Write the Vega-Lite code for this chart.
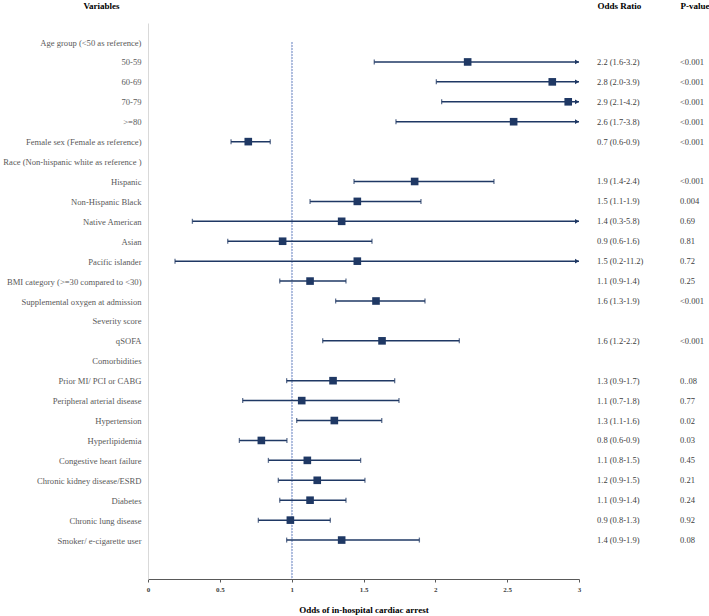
{
  "$schema": "https://vega.github.io/schema/vega-lite/v6.json",
  "width": 431,
  "height": 556,
  "autosize": {"type": "none"},
  "padding": {"left": 148, "top": 23, "right": 130, "bottom": 37},
  "background": "white",
  "config": {
    "view": {"stroke": null},
    "font": "Liberation Serif"
  },
  "data": {
    "values": [
      {"label": "Age group (<50 as reference)", "or": null, "lo": null, "hi": null, "or_text": null, "p_text": null},
      {"label": "50-59", "or": 2.225, "lo": 1.575, "hi": 3.2, "or_text": "2.2 (1.6-3.2)", "p_text": "<0.001"},
      {"label": "60-69", "or": 2.814, "lo": 2.007, "hi": 3.9, "or_text": "2.8 (2.0-3.9)", "p_text": "<0.001"},
      {"label": "70-79", "or": 2.925, "lo": 2.044, "hi": 4.2, "or_text": "2.9 (2.1-4.2)", "p_text": "<0.001"},
      {"label": ">=80", "or": 2.545, "lo": 1.726, "hi": 3.8, "or_text": "2.6 (1.7-3.8)", "p_text": "<0.001"},
      {"label": "Female sex  (Female as reference)", "or": 0.698, "lo": 0.578, "hi": 0.851, "or_text": "0.7 (0.6-0.9)", "p_text": "<0.001"},
      {"label": "Race (Non-hispanic white as reference )", "or": null, "lo": null, "hi": null, "or_text": null, "p_text": null},
      {"label": "Hispanic", "or": 1.856, "lo": 1.434, "hi": 2.408, "or_text": "1.9 (1.4-2.4)", "p_text": "<0.001"},
      {"label": "Non-Hispanic Black", "or": 1.457, "lo": 1.128, "hi": 1.9, "or_text": "1.5 (1.1-1.9)", "p_text": "0.004"},
      {"label": "Native American", "or": 1.348, "lo": 0.309, "hi": 5.8, "or_text": "1.4 (0.3-5.8)", "p_text": "0.69"},
      {"label": "Asian", "or": 0.937, "lo": 0.555, "hi": 1.559, "or_text": "0.9 (0.6-1.6)", "p_text": "0.81"},
      {"label": "Pacific islander", "or": 1.457, "lo": 0.188, "hi": 11.2, "or_text": "1.5 (0.2-11.2)", "p_text": "0.72"},
      {"label": "BMI category (>=30 compared to <30)", "or": 1.128, "lo": 0.917, "hi": 1.378, "or_text": "1.1 (0.9-1.4)", "p_text": "0.25"},
      {"label": "Supplemental oxygen at admission", "or": 1.587, "lo": 1.306, "hi": 1.928, "or_text": "1.6 (1.3-1.9)", "p_text": "<0.001"},
      {"label": "Severity score", "or": null, "lo": null, "hi": null, "or_text": null, "p_text": null},
      {"label": "qSOFA", "or": 1.629, "lo": 1.216, "hi": 2.167, "or_text": "1.6 (1.2-2.2)", "p_text": "<0.001"},
      {"label": "Comorbidities", "or": null, "lo": null, "hi": null, "or_text": null, "p_text": null},
      {"label": "Prior MI/ PCI or CABG", "or": 1.288, "lo": 0.965, "hi": 1.717, "or_text": "1.3 (0.9-1.7)", "p_text": "0..08"},
      {"label": "Peripheral arterial disease", "or": 1.07, "lo": 0.659, "hi": 1.747, "or_text": "1.1 (0.7-1.8)", "p_text": "0.77"},
      {"label": "Hypertension", "or": 1.297, "lo": 1.035, "hi": 1.627, "or_text": "1.3 (1.1-1.6)", "p_text": "0.02"},
      {"label": "Hyperlipidemia", "or": 0.789, "lo": 0.636, "hi": 0.967, "or_text": "0.8 (0.6-0.9)", "p_text": "0.03"},
      {"label": "Congestive heart failure", "or": 1.109, "lo": 0.838, "hi": 1.48, "or_text": "1.1 (0.8-1.5)", "p_text": "0.45"},
      {"label": "Chronic kidney disease/ESRD", "or": 1.178, "lo": 0.907, "hi": 1.51, "or_text": "1.2 (0.9-1.5)", "p_text": "0.21"},
      {"label": "Diabetes", "or": 1.128, "lo": 0.917, "hi": 1.378, "or_text": "1.1 (0.9-1.4)", "p_text": "0.24"},
      {"label": "Chronic lung disease", "or": 0.991, "lo": 0.768, "hi": 1.269, "or_text": "0.9 (0.8-1.3)", "p_text": "0.92"},
      {"label": "Smoker/ e-cigarette user", "or": 1.348, "lo": 0.965, "hi": 1.889, "or_text": "1.4 (0.9-1.9)", "p_text": "0.08"}
    ]
  },
  "encoding": {
    "y": {
      "field": "label",
      "type": "nominal",
      "scale": {
        "type": "point",
        "padding": 0.955,
        "domain": [
          "Age group (<50 as reference)", "50-59", "60-69", "70-79", ">=80",
          "Female sex  (Female as reference)", "Race (Non-hispanic white as reference )",
          "Hispanic", "Non-Hispanic Black", "Native American", "Asian", "Pacific islander",
          "BMI category (>=30 compared to <30)", "Supplemental oxygen at admission",
          "Severity score", "qSOFA", "Comorbidities", "Prior MI/ PCI or CABG",
          "Peripheral arterial disease", "Hypertension", "Hyperlipidemia",
          "Congestive heart failure", "Chronic kidney disease/ESRD", "Diabetes",
          "Chronic lung disease", "Smoker/ e-cigarette user", " "
        ]
      },
      "axis": {
        "title": "Variables",
        "titleAngle": 0,
        "titleX": -47,
        "titleY": -18,
        "titleAlign": "center",
        "titleBaseline": "middle",
        "titleFont": "Liberation Serif",
        "titleFontSize": 9,
        "titleFontWeight": "bold",
        "titleColor": "#000000",
        "labelFont": "Liberation Serif",
        "labelFontSize": 8.6,
        "labelColor": "#595959",
        "labelAlign": "right",
        "labelPadding": 7,
        "labelLimit": 0,
        "ticks": false,
        "grid": false,
        "domainColor": "#d9d9d9",
        "domainWidth": 1
      }
    }
  },
  "layer": [
    {
      "encoding": {
        "x": {
          "type": "quantitative",
          "scale": {"domain": [0, 3], "clamp": true, "nice": false, "zero": false},
          "axis": {
            "title": "Odds of in-hospital cardiac arrest",
            "values": [0, 0.5, 1, 1.5, 2, 2.5, 3],
            "format": ".1~f",
            "grid": false,
            "labelFont": "Liberation Serif",
            "labelFontSize": 7,
            "labelFontWeight": "bold",
            "labelColor": "#404040",
            "labelPadding": 3,
            "labelFlush": false,
            "tickSize": 3,
            "tickColor": "#595959",
            "domainColor": "#595959",
            "domainWidth": 1.2,
            "titleFont": "Liberation Serif",
            "titleFontSize": 9,
            "titleFontWeight": "bold",
            "titleColor": "#000000",
            "titlePadding": 13
          }
        }
      },
      "layer": [
        {
          "mark": {"type": "rule", "color": "#afbfdc", "strokeWidth": 1, "strokeDash": [2, 1]},
          "encoding": {
            "x": {"datum": 1},
            "y": {"datum": "Age group (<50 as reference)"},
            "y2": {"value": "height"}
          }
        },
        {
          "transform": [{"filter": "datum.or != null"}],
          "mark": {"type": "rule", "color": "#1f3864", "strokeWidth": 1.5},
          "encoding": {
            "x": {"field": "lo"},
            "x2": {"field": "hi"}
          }
        },
        {
          "transform": [{"filter": "datum.or != null"}],
          "mark": {"type": "tick", "color": "#1f3864", "size": 5, "thickness": 1.3, "orient": "vertical"},
          "encoding": {
            "x": {"field": "lo"}
          }
        },
        {
          "transform": [{"filter": "datum.or != null && datum.hi <= 3"}],
          "mark": {"type": "tick", "color": "#1f3864", "size": 5, "thickness": 1.3, "orient": "vertical"},
          "encoding": {
            "x": {"field": "hi"}
          }
        },
        {
          "transform": [{"filter": "datum.or != null && datum.hi > 3"}],
          "mark": {"type": "point", "shape": "triangle-right", "filled": true, "color": "#1f3864", "size": 22, "opacity": 1, "xOffset": -2},
          "encoding": {
            "x": {"field": "hi"}
          }
        },
        {
          "transform": [{"filter": "datum.or != null"}],
          "mark": {"type": "point", "shape": "square", "filled": true, "color": "#1f3864", "size": 58, "opacity": 1},
          "encoding": {
            "x": {"field": "or"}
          }
        }
      ]
    },
    {
      "transform": [
        {"fold": ["or_text", "p_text"], "as": ["column", "value"]},
        {"filter": "datum.value != null"}
      ],
      "mark": {"type": "text", "align": "left", "baseline": "middle", "font": "Liberation Serif", "fontSize": 8.5, "color": "#404040"},
      "encoding": {
        "x": {
          "field": "column",
          "type": "nominal",
          "scale": {"type": "point", "domain": ["or_text", "p_text"], "range": [449, 532], "padding": 0},
          "axis": {
            "orient": "top",
            "title": null,
            "labelExpr": "datum.value == 'or_text' ? 'Odds Ratio' : 'P-value'",
            "labelAlign": "left",
            "labelAngle": 0,
            "labelFont": "Liberation Serif",
            "labelFontSize": 9,
            "labelFontWeight": "bold",
            "labelColor": "#000000",
            "labelPadding": 13,
            "ticks": false,
            "tickSize": 0,
            "domain": false,
            "grid": false
          }
        },
        "text": {"field": "value", "type": "nominal"}
      }
    }
  ],
  "resolve": {"scale": {"x": "independent"}, "axis": {"x": "independent"}}
}
